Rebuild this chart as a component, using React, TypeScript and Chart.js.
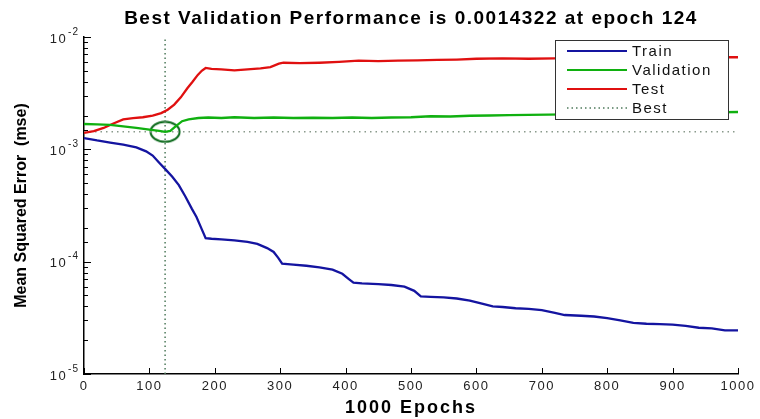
import React, { useEffect, useRef } from "react";
import { Chart, registerables } from "chart.js";

Chart.register(...registerables);

const TITLE = "Best Validation Performance is 0.0014322 at epoch 124";
const X_TITLE = "1000 Epochs";
const Y_TITLE = "Mean Squared Error  (mse)";

const X_MIN = 0;
const X_MAX = 1000;
const X_STEP = 100;
const Y_DECADES = [1e-5, 1e-4, 1e-3, 1e-2];
const Y_DECADE_BASE = "10";
const Y_DECADE_EXPONENTS = ["-5", "-4", "-3", "-2"];

const trainEpochs = [0, 20, 40, 60, 80, 95, 105, 115, 125, 135, 145, 155, 165, 172, 180, 186, 195, 210, 230, 250, 265, 280, 290, 297, 303, 320, 340, 360, 380, 395, 405, 412, 425, 450, 470, 490, 505, 515, 530, 550, 570, 590, 610, 625, 640, 660, 680, 700, 720, 735, 760, 780, 800, 820, 840, 860, 880, 900, 920, 940, 960, 980, 1000];
const trainMse = [1.26e-3, 1.2e-3, 1.15e-3, 1.1e-3, 1.04e-3, 9.6e-4, 8.8e-4, 7.6e-4, 6.6e-4, 5.7e-4, 4.8e-4, 3.8e-4, 2.95e-4, 2.5e-4, 1.95e-4, 1.62e-4, 1.6e-4, 1.58e-4, 1.55e-4, 1.5e-4, 1.44e-4, 1.32e-4, 1.22e-4, 1.08e-4, 9.6e-5, 9.4e-5, 9.2e-5, 8.9e-5, 8.5e-5, 7.8e-5, 7.0e-5, 6.5e-5, 6.4e-5, 6.3e-5, 6.2e-5, 6.0e-5, 5.5e-5, 4.9e-5, 4.85e-5, 4.8e-5, 4.7e-5, 4.5e-5, 4.2e-5, 4.0e-5, 3.95e-5, 3.85e-5, 3.8e-5, 3.7e-5, 3.5e-5, 3.35e-5, 3.3e-5, 3.25e-5, 3.15e-5, 3.0e-5, 2.85e-5, 2.8e-5, 2.78e-5, 2.75e-5, 2.68e-5, 2.58e-5, 2.55e-5, 2.45e-5, 2.45e-5];

const valEpochs = [0, 20, 40, 60, 80, 100, 115, 124, 132, 140, 150, 160, 175, 190, 210, 230, 260, 290, 320, 350, 380, 410, 440, 470, 500, 530, 560, 590, 620, 650, 680, 710, 740, 770, 800, 840, 880, 920, 960, 1000];
const valMse = [1.68e-3, 1.67e-3, 1.65e-3, 1.6e-3, 1.55e-3, 1.5e-3, 1.46e-3, 1.4322e-3, 1.46e-3, 1.6e-3, 1.78e-3, 1.85e-3, 1.9e-3, 1.92e-3, 1.9e-3, 1.93e-3, 1.9e-3, 1.92e-3, 1.9e-3, 1.91e-3, 1.9e-3, 1.92e-3, 1.9e-3, 1.92e-3, 1.93e-3, 1.97e-3, 1.96e-3, 1.99e-3, 2.0e-3, 2.02e-3, 2.03e-3, 2.04e-3, 2.05e-3, 2.06e-3, 2.07e-3, 2.08e-3, 2.1e-3, 2.12e-3, 2.13e-3, 2.15e-3];

const testEpochs = [0, 15, 30, 45, 60, 75, 90, 105, 118, 128, 138, 148, 158, 166, 174, 180, 186, 195, 210, 230, 250, 270, 285, 298, 305, 330, 360, 390, 420, 450, 480, 510, 540, 570, 600, 640, 680, 720, 760, 800, 850, 900, 950, 1000];
const testMse = [1.4e-3, 1.45e-3, 1.55e-3, 1.7e-3, 1.85e-3, 1.9e-3, 1.93e-3, 2.0e-3, 2.1e-3, 2.25e-3, 2.5e-3, 2.9e-3, 3.5e-3, 4.0e-3, 4.6e-3, 5.0e-3, 5.3e-3, 5.2e-3, 5.15e-3, 5.05e-3, 5.15e-3, 5.25e-3, 5.4e-3, 5.8e-3, 5.9e-3, 5.85e-3, 5.9e-3, 6.0e-3, 6.15e-3, 6.1e-3, 6.15e-3, 6.2e-3, 6.25e-3, 6.3e-3, 6.4e-3, 6.45e-3, 6.4e-3, 6.45e-3, 6.5e-3, 6.5e-3, 6.55e-3, 6.55e-3, 6.6e-3, 6.6e-3];

const BEST_EPOCH = 124;
const BEST_MSE = 0.0014322;

const LEGEND_ITEMS = ["Train", "Validation", "Test", "Best"];

const FONT = "'Liberation Sans', Arial, Helvetica, sans-serif";
const TRAIN_COLOR = "#1414a0";
const VAL_COLOR = "#10b010";
const TEST_COLOR = "#e01010";
const BEST_COLOR = "#4f7a5c";
const CIRCLE_COLOR = "#0c6a1c";

function pts(xs: number[], ys: number[]) {
  return xs.map((x, i) => ({ x, y: ys[i] }));
}

function makeEllipse(): HTMLCanvasElement {
  const c = document.createElement("canvas");
  c.width = 32;
  c.height = 23;
  const g = c.getContext("2d")!;
  g.strokeStyle = CIRCLE_COLOR;
  g.lineWidth = 2;
  g.beginPath();
  g.ellipse(16, 11.5, 14.5, 10, 0, 0, Math.PI * 2);
  g.stroke();
  return c;
}

const decorPlugin = {
  id: "matlabDecor",
  beforeDraw(chart: any) {
    chart.ctx.letterSpacing = "1.5px";
  },
  afterDraw(chart: any) {
    const ctx = chart.ctx as CanvasRenderingContext2D & { letterSpacing: string };
    const area = chart.chartArea;
    const xs = chart.scales.x;
    const ys = chart.scales.y;
    ctx.save();
    // inward tick marks
    ctx.strokeStyle = "#000";
    ctx.lineWidth = 1;
    ctx.beginPath();
    xs.ticks.forEach((t: any) => {
      const px = Math.round(xs.getPixelForValue(t.value)) + 0.5;
      ctx.moveTo(px, area.bottom);
      ctx.lineTo(px, area.bottom - 6);
    });
    ys.ticks.forEach((t: any) => {
      const v = t.value;
      const lg = Math.log10(v);
      const major = Math.abs(lg - Math.round(lg)) < 1e-6;
      const py = Math.round(ys.getPixelForValue(v)) + 0.5;
      ctx.moveTo(area.left, py);
      ctx.lineTo(area.left + (major ? 7 : 4), py);
    });
    ctx.stroke();

    // y decade labels with superscript exponents
    ctx.fillStyle = "#222";
    ctx.textBaseline = "middle";
    ctx.letterSpacing = "1.5px";
    Y_DECADES.forEach((d, i) => {
      const py = ys.getPixelForValue(d);
      const exp = Y_DECADE_EXPONENTS[i];
      ctx.textAlign = "right";
      ctx.font = `10px ${FONT}`;
      ctx.letterSpacing = "1px";
      const ew = ctx.measureText(exp).width;
      const ex = area.left - 5;
      ctx.fillText(exp, ex, py - 5);
      ctx.font = `13px ${FONT}`;
      ctx.letterSpacing = "1.5px";
      ctx.fillText(Y_DECADE_BASE, ex - ew - 1, py + 2);
    });

    // titles
    const cx = (area.left + area.right) / 2;
    ctx.fillStyle = "#000";
    ctx.textAlign = "center";
    ctx.textBaseline = "alphabetic";
    ctx.letterSpacing = "1.5px";
    ctx.font = `bold 19px ${FONT}`;
    ctx.fillText(TITLE, cx, 24);
    ctx.letterSpacing = "2px";
    ctx.font = `bold 18px ${FONT}`;
    ctx.fillText(X_TITLE, cx, 413);
    ctx.letterSpacing = "0px";
    ctx.save();
    ctx.translate(22, (area.top + area.bottom) / 2);
    ctx.rotate(-Math.PI / 2);
    ctx.textBaseline = "middle";
    ctx.font = `bold 16px ${FONT}`;
    ctx.fillText(Y_TITLE, 0, 0);
    ctx.restore();

    // legend box
    const bw = 173;
    const bh = 79;
    const bx = area.right - 10 - bw;
    const by = area.top + 3;
    ctx.fillStyle = "#fff";
    ctx.fillRect(bx, by, bw, bh);
    ctx.strokeStyle = "#333";
    ctx.lineWidth = 1;
    ctx.strokeRect(bx + 0.5, by + 0.5, bw, bh);
    ctx.font = `15px ${FONT}`;
    ctx.letterSpacing = "1.5px";
    ctx.textAlign = "left";
    ctx.textBaseline = "middle";
    LEGEND_ITEMS.forEach((label, i) => {
      const ds = chart.data.datasets.find((d: any) => d.label === label);
      const ry = by + 11 + i * 19;
      ctx.strokeStyle = ds.borderColor;
      ctx.lineWidth = Math.min(ds.borderWidth, 2);
      ctx.setLineDash(ds.borderDash || []);
      ctx.beginPath();
      ctx.moveTo(bx + 12, ry);
      ctx.lineTo(bx + 72, ry);
      ctx.stroke();
      ctx.setLineDash([]);
      ctx.fillStyle = "#111";
      ctx.fillText(label, bx + 77, ry + 1);
    });
    ctx.restore();
  },
};

export default function App() {
  const ref = useRef<HTMLCanvasElement | null>(null);

  useEffect(() => {
    document.body.style.margin = "0";
    const canvas = ref.current!;
    const chart = new Chart(canvas, {
      type: "line",
      data: {
        datasets: [
          {
            label: "Train",
            data: pts(trainEpochs, trainMse),
            borderColor: TRAIN_COLOR,
            borderWidth: 2.3,
            pointRadius: 0,
            tension: 0,
          },
          {
            label: "Validation",
            data: pts(valEpochs, valMse),
            borderColor: VAL_COLOR,
            borderWidth: 2.3,
            pointRadius: 0,
            tension: 0,
          },
          {
            label: "Test",
            data: pts(testEpochs, testMse),
            borderColor: TEST_COLOR,
            borderWidth: 2.3,
            pointRadius: 0,
            tension: 0,
          },
          {
            label: "Best",
            data: [
              { x: BEST_EPOCH, y: Y_DECADES[0] },
              { x: BEST_EPOCH, y: Y_DECADES[Y_DECADES.length - 1] },
            ],
            borderColor: BEST_COLOR,
            borderWidth: 1.5,
            borderDash: [1.5, 3],
            pointRadius: 0,
          },
          {
            label: "",
            data: [
              { x: X_MIN, y: BEST_MSE },
              { x: X_MAX, y: BEST_MSE },
            ],
            borderColor: "#8a9a8c",
            borderWidth: 1.5,
            borderDash: [1.5, 4],
            pointRadius: 0,
          },
          {
            label: " ",
            data: [{ x: BEST_EPOCH, y: BEST_MSE }],
            showLine: false,
            pointStyle: makeEllipse() as any,
            pointRadius: 12,
            borderColor: CIRCLE_COLOR,
            backgroundColor: "rgba(0,0,0,0)",
          },
        ],
      },
      options: {
        responsive: false,
        animation: false,
        events: [],
        layout: { padding: { top: 37, right: 22, left: 0, bottom: 0 } },
        plugins: {
          legend: { display: false },
          title: { display: false },
          tooltip: { enabled: false },
        },
        scales: {
          x: {
            type: "linear",
            min: X_MIN,
            max: X_MAX,
            grid: { display: false, drawTicks: false },
            border: { display: true, color: "#000", width: 1.5 },
            ticks: {
              stepSize: X_STEP,
              padding: 5,
              color: "#222",
              font: { family: FONT, size: 13 },
              maxRotation: 0,
              callback: (v: any) => String(v),
            },
            afterFit: (s: any) => {
              s.height = 45;
            },
          },
          y: {
            type: "logarithmic",
            min: Y_DECADES[0],
            max: Y_DECADES[Y_DECADES.length - 1],
            grid: { display: false, drawTicks: false },
            border: { display: true, color: "#000", width: 1.5 },
            ticks: {
              display: false,
              autoSkip: false,
            },
            afterFit: (s: any) => {
              s.width = 84;
            },
          },
        },
      },
      plugins: [decorPlugin],
    } as any);
    return () => chart.destroy();
  }, []);

  return (
    <div style={{ width: 760, height: 419, background: "#fff" }}>
      <canvas ref={ref} width={760} height={419} style={{ display: "block" }} />
    </div>
  );
}
